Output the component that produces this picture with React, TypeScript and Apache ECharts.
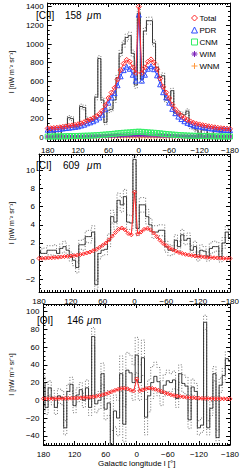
import React, { useEffect, useRef } from 'react';
import * as echarts from 'echarts';

// Galactic longitude grid (deg), bins / model points, 180 -> -180
const LON = [180, 174, 168, 162, 156, 150, 144, 138, 132, 126, 120, 114, 108, 102, 96, 90, 84, 78, 72, 66, 60, 54, 48, 42, 36, 30, 24, 18, 12, 6, 0, -6, -12, -18, -24, -30, -36, -42, -48, -54, -60, -66, -72, -78, -84, -90, -96, -102, -108, -114, -120, -126, -132, -138, -144, -150, -156, -162, -168, -174, -180];

// [CII] 158 um observed (binned) and uncertainty
const CII_OBS = [75, 72, 55, 30, 30, 90, 115, 210, 200, 110, 110, 330, 320, 190, 190, 190, 430, 845, 400, 160, 290, 300, 400, 640, 900, 1000, 1070, 1090, 900, 560, 1330, 620, 1140, 1250, 1250, 1010, 750, 640, 660, 400, 400, 500, 260, 260, 250, 240, 280, 115, 100, 78, 25, 78, 78, 25, 25, 78, 78, 60, 95, 90, 90];
const CII_ERR = [20, 20, 20, 20, 20, 20, 20, 22, 22, 22, 22, 25, 25, 25, 25, 25, 28, 30, 28, 25, 25, 25, 28, 30, 35, 35, 38, 38, 35, 35, 45, 35, 35, 38, 38, 35, 35, 30, 30, 28, 25, 25, 25, 25, 25, 25, 25, 22, 22, 22, 22, 22, 22, 20, 20, 20, 20, 20, 20, 20, 20];
// [CII] model components
const CII_TOTAL = [95, 97, 100, 103, 107, 112, 117, 122, 128, 133, 140, 150, 162, 178, 190, 205, 225, 250, 285, 345, 420, 480, 530, 620, 720, 790, 830, 810, 750, 690, 1400, 690, 750, 810, 835, 800, 730, 630, 540, 480, 420, 350, 300, 260, 230, 205, 185, 170, 155, 145, 138, 130, 125, 118, 112, 107, 102, 98, 95, 92, 90];
const CII_PDR = [81, 83, 85, 87, 90, 95, 99, 102, 107, 112, 117, 126, 135, 150, 160, 172, 190, 212, 243, 300, 371, 427, 473, 558, 654, 720, 757, 735, 671, 607, 1315, 607, 671, 735, 762, 730, 664, 568, 483, 427, 371, 305, 258, 222, 195, 172, 155, 142, 128, 121, 115, 109, 104, 98, 94, 90, 85, 82, 80, 78, 76];
const CII_CNM = [8, 8, 9, 9, 10, 10, 11, 12, 13, 13, 14, 15, 16, 17, 18, 20, 22, 24, 27, 29, 32, 35, 38, 42, 45, 48, 50, 52, 55, 58, 60, 58, 55, 52, 50, 48, 45, 42, 38, 35, 32, 29, 27, 24, 22, 20, 18, 17, 16, 15, 14, 13, 13, 12, 11, 10, 10, 9, 9, 8, 8];
const CII_WIM = [4, 4, 4, 5, 5, 5, 5, 6, 6, 6, 7, 7, 8, 8, 9, 10, 10, 11, 12, 13, 14, 15, 16, 17, 18, 19, 20, 20, 21, 22, 22, 22, 21, 20, 20, 19, 18, 17, 16, 15, 14, 13, 12, 11, 10, 10, 9, 8, 8, 7, 7, 6, 6, 6, 5, 5, 5, 5, 4, 4, 4];
const CII_WNM = [2, 2, 2, 2, 2, 2, 2, 2, 2, 2, 2, 2, 3, 3, 3, 3, 3, 3, 3, 3, 3, 3, 3, 3, 3, 3, 3, 3, 3, 3, 3, 3, 3, 3, 3, 3, 3, 3, 3, 3, 3, 3, 3, 3, 3, 3, 3, 3, 3, 2, 2, 2, 2, 2, 2, 2, 2, 2, 2, 2, 2];

// [CI] 609 um
const CI_OBS = [1.2, 0.85, 0.85, 1.2, 1.2, 1.2, 0.85, 1.4, 1.6, 1.2, 0.5, 0.1, -0.7, 1.8, 1.8, 2.7, 2.7, 3.2, -2.6, 0.85, 1.2, 1.3, 2.3, 4.9, 4.3, 6.7, 6.2, 7.1, 4.3, 4.2, 11.2, 3.6, 6.2, 6.2, 4.9, 4.0, 3.2, 3.2, 3.4, 3.4, 1.6, 1.2, 1.2, 2.3, 1.6, 2.9, 2.3, 2.5, 1.2, 1.6, 0.5, 1.2, 1.1, 0.5, 1.4, 1.6, 1.6, 0.5, 2.0, 3.2, 2.6];
const CI_ERR = [0.5, 0.5, 0.6, 0.5, 0.5, 0.6, 0.5, 0.5, 0.6, 0.5, 0.5, 0.6, 0.6, 0.5, 0.6, 0.6, 0.7, 0.7, 0.5, 0.6, 0.6, 0.6, 0.7, 0.7, 0.8, 0.8, 0.8, 0.8, 0.8, 0.8, 0.5, 0.8, 0.8, 0.8, 0.8, 0.7, 0.7, 0.7, 0.6, 0.6, 0.6, 0.6, 0.5, 0.6, 0.6, 0.6, 0.5, 0.6, 0.5, 0.6, 0.5, 0.6, 0.5, 0.5, 0.6, 0.6, 0.5, 0.6, 0.6, 0.6, 0.7];
const CI_MODEL = [0.3, 0.31, 0.33, 0.35, 0.37, 0.4, 0.43, 0.46, 0.5, 0.53, 0.57, 0.61, 0.66, 0.72, 0.8, 0.9, 1.0, 1.15, 1.3, 1.52, 1.75, 2.0, 2.35, 2.75, 3.15, 3.5, 3.65, 3.45, 3.05, 2.9, 7.6, 3.0, 3.2, 3.5, 3.6, 3.45, 3.1, 2.7, 2.3, 1.95, 1.7, 1.45, 1.25, 1.1, 0.95, 0.85, 0.75, 0.68, 0.62, 0.57, 0.52, 0.48, 0.45, 0.42, 0.4, 0.37, 0.35, 0.33, 0.31, 0.3, 0.29];

// [OI] 146 um
const OI_OBS = [20, -8, 14, 3, -8, 5, 3, -31, 10, 18, -6, 6, 12, 0, 14, -8, 72, -4, 0, 30, -10, -3, -50, -12, -20, 30, -27, 34, 31, 20, 51, 20, 48, -19, 5, 20, 27, 21, 8, 17, 22, 20, 23, 2, 30, 19, 16, -22, 15, 10, -31, -28, 88, -31, -9, 30, -42, 17, 28, 47, 44];
const OI_ERR = [8, 8, 8, 8, 8, 8, 8, 8, 8, 8, 8, 8, 8, 8, 9, 9, 10, 10, 10, 12, 12, 14, 16, 18, 20, 20, 20, 20, 20, 20, 20, 20, 20, 20, 18, 18, 16, 16, 14, 12, 12, 10, 10, 10, 10, 10, 10, 10, 9, 9, 8, 8, 8, 8, 8, 8, 8, 8, 8, 8, 10];
const OI_MODEL = [1.8, 1.8, 1.9, 1.9, 2.0, 2.0, 2.1, 2.2, 2.3, 2.4, 2.5, 2.6, 2.8, 3.0, 3.3, 3.6, 4.0, 4.6, 5.3, 6.2, 7.2, 8.4, 9.8, 11.2, 12.4, 13.3, 13.6, 13.0, 11.5, 10.5, 24, 10.8, 11.8, 13.2, 13.8, 13.4, 12.5, 11.3, 10, 8.6, 7.4, 6.3, 5.4, 4.8, 4.3, 3.8, 3.4, 3.1, 2.8, 2.6, 2.4, 2.2, 2.1, 2.0, 1.9, 1.8, 1.8, 1.7, 1.7, 1.6, 1.6];

const X_TICK_STEP = 60;
const Y_TICK_STEPS = [200, 2, 20];
const LEGEND_NAMES = ['Total', 'PDR', 'CNM', 'WIM', 'WNM'];

const FONT = '"Liberation Sans", Arial, sans-serif';
const RED = '#ff2a2a';
const BLUE = '#2f4dff';
const GREEN = '#33ee66';
const PURPLE = '#7a1fb8';
const ORANGE = '#ff9a40';
const ASTER = 'path://M0,5L10,5M5,0L5,10M1.5,1.5L8.5,8.5M8.5,1.5L1.5,8.5';
const PLUS = 'path://M0,5L10,5M5,0L5,10';

const neg = (v: number) => (v < 0 ? '\u2212' + Math.abs(v) : String(v));
const pairs = (ys: number[]) => LON.map((l, i) => [l, ys[i]]);
const shifted = (ys: number[], es: number[], s: number) => LON.map((l, i) => [l, ys[i] + s * es[i]]);

export default function App() {
  const ref = useRef<HTMLDivElement>(null);
  useEffect(() => {
    if (!ref.current) return;
    const chart = echarts.init(ref.current, undefined, { renderer: 'svg' });
    const black = { color: '#000', width: 1 };
    const grids = [
      { left: 33, right: 10, top: 3, height: 138 },
      { left: 33, right: 10, top: 154, height: 138 },
      { left: 33, right: 10, top: 304, height: 142 },
    ];
    const yr = [
      { min: -40, max: 1440, split: 7 },
      { min: -3.4, max: 11.8, split: 7 },
      { min: -50.4, max: 108.6, split: 8 },
    ];
    const xAxis: any[] = [];
    const yAxis: any[] = [];
    grids.forEach((_, i) => {
      ['bottom', 'top'].forEach((pos) => {
        xAxis.push({
          gridIndex: i, type: 'value', position: pos, min: -180, max: 180, interval: X_TICK_STEP, inverse: true,
          axisLine: { onZero: false, lineStyle: black },
          axisTick: { inside: true, length: 4, lineStyle: black },
          minorTick: { show: true, splitNumber: 12, length: 2, lineStyle: black },
          splitLine: { show: false }, minorSplitLine: { show: false },
          axisLabel: pos === 'bottom' ? { fontSize: 8, color: '#000', margin: 5, fontFamily: FONT, formatter: neg } : { show: false },
          name: pos === 'bottom' && i === 2 ? 'Galactic longitude l [\u00b0]' : '',
          nameLocation: 'middle', nameGap: 14,
          nameTextStyle: { fontSize: 8, color: '#000', fontFamily: FONT },
        });
      });
      const step = Y_TICK_STEPS[i];
      ['left', 'right'].forEach((pos) => {
        yAxis.push({
          gridIndex: i, type: 'value', position: pos, min: yr[i].min, max: yr[i].max, splitNumber: yr[i].split,
          axisLine: { onZero: false, lineStyle: black },
          axisTick: { inside: true, length: 4, lineStyle: black },
          minorTick: { show: true, splitNumber: 4, length: 2, lineStyle: black },
          splitLine: { show: false }, minorSplitLine: { show: false },
          axisLabel: pos === 'left' ? {
            fontSize: 8, color: '#000', margin: 4, fontFamily: FONT, showMinLabel: false, showMaxLabel: false,
            formatter: (v: number) => (Math.abs(v / step - Math.round(v / step)) < 1e-6 ? neg(v) : ''),
          } : { show: false },
          name: pos === 'left' ? 'I [nW m\u207b\u00b2 sr\u207b\u00b9]' : '',
          nameLocation: 'middle', nameGap: 20,
          nameTextStyle: { fontSize: 7, color: '#000', fontFamily: FONT },
        });
      });
    });

    const series: any[] = [];
    const obs = [CII_OBS, CI_OBS, OI_OBS];
    const errs = [CII_ERR, CI_ERR, OI_ERR];
    obs.forEach((o, i) => {
      const base = { type: 'line', xAxisIndex: 2 * i, yAxisIndex: 2 * i, step: 'middle', showSymbol: false, symbol: 'none', silent: true, z: 2 };
      series.push({ ...base, name: 'obs' + i, data: pairs(o), lineStyle: { color: '#222', width: 0.9 } });
      series.push({ ...base, name: 'hi' + i, data: shifted(o, errs[i], 1), lineStyle: { color: '#333', width: 0.7, type: [1, 1.8] } });
      series.push({ ...base, name: 'lo' + i, data: shifted(o, errs[i], -1), lineStyle: { color: '#333', width: 0.7, type: [1, 1.8] } });
    });
    const model = (name: string, data: number[], i: number, color: string, symbol: string, size: number, z: number) => ({
      type: 'line', name, xAxisIndex: 2 * i, yAxisIndex: 2 * i, data: pairs(data), symbol, symbolSize: size,
      showSymbol: true, silent: true, z,
      lineStyle: { color, width: 1 },
      itemStyle: { color: 'transparent', borderColor: color, borderWidth: 1 },
    });
    series.push(model('WNM', CII_WNM, 0, ORANGE, PLUS, 5, 3));
    series.push(model('WIM', CII_WIM, 0, PURPLE, ASTER, 5, 3));
    series.push(model('CNM', CII_CNM, 0, GREEN, 'rect', 5, 3));
    series.push(model('PDR', CII_PDR, 0, BLUE, 'triangle', 5, 4));
    series.push(model('Total', CII_TOTAL, 0, RED, 'diamond', 5, 5));
    series.push(model('CI model', CI_MODEL, 1, RED, 'diamond', 4, 5));
    series.push(model('OI model', OI_MODEL, 2, RED, 'diamond', 4, 5));

    const icons: Record<string, [string, string]> = {
      Total: ['diamond', RED], PDR: ['triangle', BLUE], CNM: ['rect', GREEN], WIM: [ASTER, PURPLE], WNM: [PLUS, ORANGE],
    };
    const txt = (x: number, y: number, text: string, italic = false) => ({
      type: 'text', x, y, silent: true,
      style: { text, fontSize: 10, fontFamily: FONT, fill: '#000', verticalAlign: 'middle', fontStyle: italic ? 'italic' : 'normal' },
    });

    chart.setOption({
      animation: false,
      textStyle: { fontFamily: FONT },
      grid: grids,
      xAxis, yAxis, series,
      legend: {
        orient: 'vertical', left: 186, top: 9, itemWidth: 6, itemHeight: 6, itemGap: 4,
        textStyle: { fontSize: 8, color: '#000', fontFamily: FONT, padding: [0, 0, 0, -3] },
        selectedMode: false,
        data: LEGEND_NAMES.map((n) => ({ name: n, icon: icons[n][0], itemStyle: { color: 'transparent', borderColor: icons[n][1], borderWidth: 1 } })),
      },
      graphic: [
        txt(36, 15, '[CII]'), txt(65, 15, '158'), txt(87, 15, '\u03bc', true), txt(93, 15, 'm'),
        txt(36, 165, '[CI]'), txt(63, 165, '609'), txt(87, 165, '\u03bc', true), txt(93, 165, 'm'),
        txt(37, 320, '[OI]'), txt(67, 320, '146'), txt(87, 320, '\u03bc', true), txt(93, 320, 'm'),
      ],
    });
    return () => chart.dispose();
  }, []);
  return <div ref={ref} style={{ position: 'fixed', left: 0, top: 0, width: 242, height: 468, background: '#fff' }} />;
}
